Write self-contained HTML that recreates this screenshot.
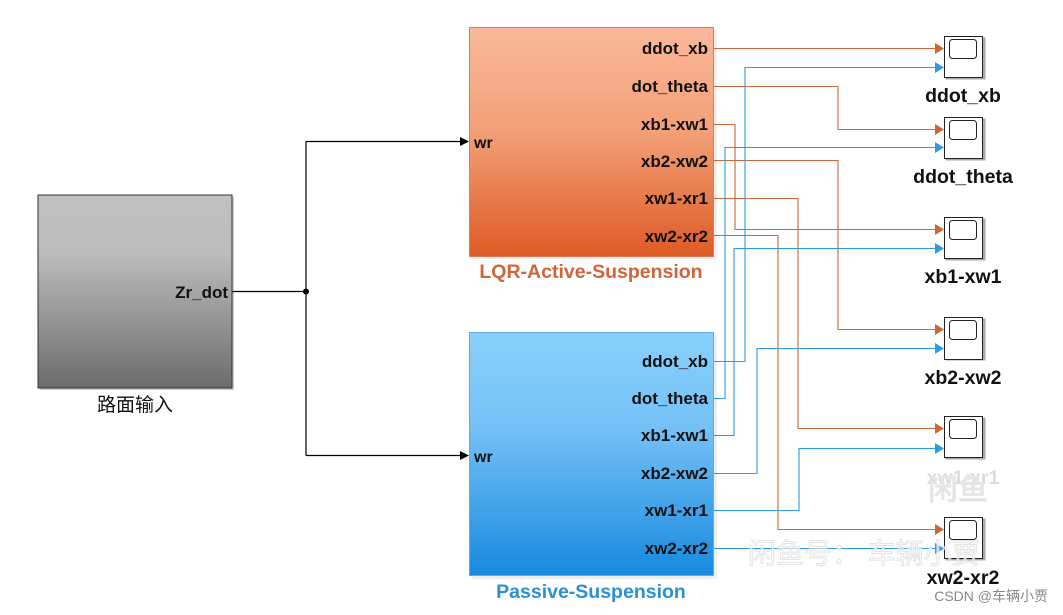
<!DOCTYPE html>
<html><head><meta charset="utf-8"><style>
html,body{margin:0;padding:0;background:#fff;width:1063px;height:615px;overflow:hidden}
text{font-family:"Liberation Sans","Noto Sans CJK SC",sans-serif;font-weight:bold}
</style></head><body>
<svg width="1063" height="615" viewBox="0 0 1063 615" xmlns="http://www.w3.org/2000/svg">
<defs>
<linearGradient id="g" x1="0" y1="0" x2="0" y2="1"><stop offset="0" stop-color="#c0c0c0"/><stop offset="0.3" stop-color="#bdbdbd"/><stop offset="1" stop-color="#6c6c6c"/></linearGradient>
<linearGradient id="o" x1="0" y1="0" x2="0" y2="1"><stop offset="0" stop-color="#fab899"/><stop offset="0.45" stop-color="#f3a078"/><stop offset="1" stop-color="#de5b25"/></linearGradient>
<linearGradient id="b" x1="0" y1="0" x2="0" y2="1"><stop offset="0" stop-color="#8ad0fd"/><stop offset="0.4" stop-color="#74c0f6"/><stop offset="1" stop-color="#178ade"/></linearGradient>
</defs>
<rect x="40" y="197" width="194" height="193" fill="#ccc"/>
<rect x="38" y="195" width="194" height="193" fill="url(#g)" stroke="#333" stroke-width="1"/>
<text x="228" y="298" font-size="17" text-anchor="end" fill="#111">Zr_dot</text>
<text x="135" y="411" font-size="19" text-anchor="middle" fill="#111" style="font-weight:normal">路面输入</text>
<g stroke="#000" stroke-width="1.2" fill="none">
<path d="M232 291.5H306M306 141.5V455.5M306 141.5H462M306 455.5H462"/>
</g>
<circle cx="306" cy="291.5" r="3" fill="#000"/>
<path d="M460 137L469 141.5L460 146Z" fill="#000"/>
<path d="M460 451L469 455.5L460 460Z" fill="#000"/>
<rect x="472" y="30" width="245" height="229" fill="#eee"/>
<rect x="469.5" y="27.5" width="244" height="229" fill="url(#o)" stroke="#e07a50"/>
<text x="474" y="148" font-size="16" fill="#111">wr</text>
<g font-size="17" text-anchor="end" fill="#111">
<text x="708" y="54">ddot_xb</text><text x="708" y="92">dot_theta</text><text x="708" y="130">xb1-xw1</text>
<text x="708" y="167">xb2-xw2</text><text x="708" y="204">xw1-xr1</text><text x="708" y="242">xw2-xr2</text>
</g>
<text x="591" y="278" font-size="19.5" text-anchor="middle" fill="#d0653b">LQR-Active-Suspension</text>
<rect x="472" y="336" width="245" height="243" fill="#eee"/>
<rect x="469.5" y="332.5" width="244" height="243" fill="url(#b)" stroke="#5aaee8"/>
<text x="474" y="462" font-size="16" fill="#111">wr</text>
<g font-size="17" text-anchor="end" fill="#111">
<text x="708" y="367">ddot_xb</text><text x="708" y="404">dot_theta</text><text x="708" y="441">xb1-xw1</text>
<text x="708" y="479">xb2-xw2</text><text x="708" y="516">xw1-xr1</text><text x="708" y="554">xw2-xr2</text>
</g>
<text x="591" y="598" font-size="19.5" text-anchor="middle" fill="#2b8fd6">Passive-Suspension</text>
<g stroke="#c8683c" stroke-width="1.1" fill="none">
<path d="M714 48.5H936"/>
<path d="M714 86.5H838V129.5H936"/>
<path d="M714 124.5H735V229.5H936"/>
<path d="M714 160.5H838V329.5H936"/>
<path d="M714 198.5H798V428.5H936"/>
<path d="M714 235.5H778V529.5H936"/>
</g>
<g stroke="#2f9ae0" stroke-width="1.1" fill="none">
<path d="M714 361.5H745V67.5H936"/>
<path d="M714 398.5H725V147.5H936"/>
<path d="M714 435.5H734V248.5H936"/>
<path d="M714 473.5H757V348.5H936"/>
<path d="M714 510.5H799V448.5H936"/>
<path d="M714 548.5H936"/>
</g>
<g fill="#d2652f">
<path d="M935 43L944 48.5L935 54Z"/><path d="M935 124L944 129.5L935 135Z"/><path d="M935 224L944 229.5L935 235Z"/>
<path d="M935 324L944 329.5L935 335Z"/><path d="M935 423L944 428.5L935 434Z"/><path d="M935 524L944 529.5L935 535Z"/>
</g>
<g fill="#2c9be6">
<path d="M935 62L944 67.5L935 73Z"/><path d="M935 142L944 147.5L935 153Z"/><path d="M935 243L944 248.5L935 254Z"/>
<path d="M935 343L944 348.5L935 354Z"/><path d="M935 443L944 448.5L935 454Z"/><path d="M935 543L944 548.5L935 554Z"/>
</g>
<g>
<g transform="translate(944,36)"><rect x="1.5" y="1.5" width="40" height="42" fill="#aaa"/><rect x="0.5" y="0.5" width="38" height="41" fill="#fff" stroke="#222"/><rect x="5.5" y="3.5" width="27" height="19" rx="3" fill="#fff" stroke="#222"/></g>
<g transform="translate(944,117)"><rect x="1.5" y="1.5" width="40" height="42" fill="#aaa"/><rect x="0.5" y="0.5" width="38" height="41" fill="#fff" stroke="#222"/><rect x="5.5" y="3.5" width="27" height="19" rx="3" fill="#fff" stroke="#222"/></g>
<g transform="translate(944,217)"><rect x="1.5" y="1.5" width="40" height="42" fill="#aaa"/><rect x="0.5" y="0.5" width="38" height="41" fill="#fff" stroke="#222"/><rect x="5.5" y="3.5" width="27" height="19" rx="3" fill="#fff" stroke="#222"/></g>
<g transform="translate(944,317)"><rect x="1.5" y="1.5" width="40" height="42" fill="#aaa"/><rect x="0.5" y="0.5" width="38" height="42" fill="#fff" stroke="#222"/><rect x="5.5" y="3.5" width="27" height="19" rx="3" fill="#fff" stroke="#222"/></g>
<g transform="translate(944,416)"><rect x="1.5" y="1.5" width="40" height="42" fill="#aaa"/><rect x="0.5" y="0.5" width="38" height="41" fill="#fff" stroke="#222"/><rect x="5.5" y="3.5" width="27" height="19" rx="3" fill="#fff" stroke="#222"/></g>
<g transform="translate(944,517)"><rect x="1.5" y="1.5" width="40" height="42" fill="#aaa"/><rect x="0.5" y="0.5" width="38" height="41" fill="#fff" stroke="#222"/><rect x="5.5" y="3.5" width="27" height="19" rx="3" fill="#fff" stroke="#222"/></g>
</g>
<g font-size="19.5" text-anchor="middle" fill="#111">
<text x="963" y="102">ddot_xb</text><text x="963" y="183">ddot_theta</text><text x="963" y="283">xb1-xw1</text>
<text x="963" y="384">xb2-xw2</text><text x="963" y="484">xw1-xr1</text><text x="963" y="584">xw2-xr2</text>
</g>
<rect x="912" y="463" width="95" height="47" rx="10" fill="#fff" opacity="0.85"/>
<text x="958" y="500" font-size="30" text-anchor="middle" fill="#e6e6e6">闲鱼</text>
<text x="748" y="563" font-size="28" fill="#fff" stroke="#ddd" stroke-width="1" opacity="0.8" style="font-weight:normal">闲鱼号： 车辆小贾</text>
<text x="1048" y="601" font-size="14" text-anchor="end" fill="#888" style="font-weight:normal">CSDN @车辆小贾</text>
</svg>
</body></html>
